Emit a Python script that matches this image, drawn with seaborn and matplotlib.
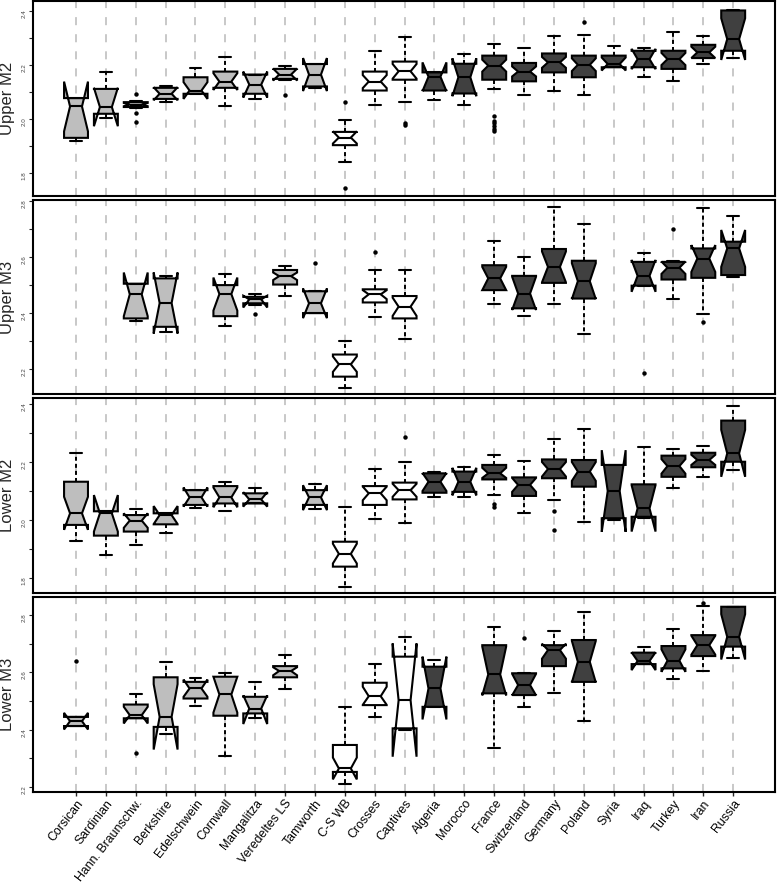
import matplotlib
import matplotlib.pyplot as plt
import numpy as np
import pandas as pd
import seaborn as sns


matplotlib.use('Agg')

categories = ["Corsican", "Sardinian", "Hann. Braunschw.", "Berkshire", "Edelschwein",
              "Cornwall", "Mangalitza", "Veredeltes LS", "Tamworth", "C-S WB", "Crosses",
              "Captives", "Algeria", "Morocco", "France", "Switzerland", "Germany", "Poland",
              "Syria", "Iraq", "Turkey", "Iran", "Russia"]
groups = ["domestic"] * 9 + ["hybrid"] * 3 + ["wild"] * 11

# one tuple per breed: (whisker low, q1, median, q3, whisker high, notch low, notch high)
upper_m2 = [
    (1.920, 1.931, 2.047, 2.078, 2.078, 1.955, 2.139),
    (2.005, 2.020, 2.045, 2.112, 2.173, 1.974, 2.116),
    (2.040, 2.045, 2.054, 2.063, 2.066, 2.048, 2.060),
    (2.063, 2.075, 2.094, 2.116, 2.124, 2.070, 2.118),
    (2.094, 2.094, 2.106, 2.155, 2.188, 2.075, 2.137),
    (2.047, 2.116, 2.139, 2.176, 2.231, 2.108, 2.170),
    (2.074, 2.094, 2.128, 2.165, 2.165, 2.080, 2.176),
    (2.145, 2.149, 2.165, 2.186, 2.198, 2.143, 2.187),
    (2.116, 2.121, 2.165, 2.204, 2.204, 2.104, 2.226),
    (1.840, 1.904, 1.932, 1.953, 1.998, 1.910, 1.955),
    (2.051, 2.106, 2.139, 2.176, 2.253, 2.115, 2.163),
    (2.063, 2.146, 2.177, 2.213, 2.304, 2.150, 2.204),
    (2.072, 2.106, 2.157, 2.173, 2.173, 2.104, 2.210),
    (2.053, 2.095, 2.155, 2.205, 2.241, 2.085, 2.225),
    (2.112, 2.146, 2.198, 2.235, 2.277, 2.176, 2.220),
    (2.088, 2.140, 2.176, 2.208, 2.263, 2.158, 2.195),
    (2.106, 2.173, 2.210, 2.243, 2.308, 2.190, 2.230),
    (2.091, 2.155, 2.201, 2.235, 2.312, 2.178, 2.225),
    (2.192, 2.192, 2.204, 2.235, 2.269, 2.180, 2.228),
    (2.155, 2.192, 2.222, 2.253, 2.265, 2.185, 2.260),
    (2.143, 2.186, 2.222, 2.253, 2.324, 2.200, 2.245),
    (2.204, 2.226, 2.247, 2.275, 2.308, 2.226, 2.268),
    (2.226, 2.253, 2.296, 2.402, 2.405, 2.219, 2.373),
]
upper_m2_outliers = [
    ("Hann. Braunschw.", 2.094), ("Hann. Braunschw.", 2.023), ("Hann. Braunschw.", 1.988),
    ("Veredeltes LS", 2.091), ("C-S WB", 2.063), ("C-S WB", 1.744),
    ("Captives", 1.977), ("Captives", 1.985),
    ("France", 1.955), ("France", 1.965), ("France", 1.975), ("France", 1.985),
    ("France", 1.995), ("France", 2.010), ("Poland", 2.361),
]

upper_m3 = [
    None,
    None,
    (2.373, 2.381, 2.467, 2.505, 2.505, 2.389, 2.545),
    (2.331, 2.351, 2.436, 2.524, 2.532, 2.327, 2.545),
    None,
    (2.354, 2.389, 2.468, 2.500, 2.539, 2.409, 2.527),
    (2.430, 2.435, 2.449, 2.458, 2.470, 2.420, 2.462),
    (2.462, 2.502, 2.532, 2.554, 2.569, 2.518, 2.545),
    (2.400, 2.400, 2.435, 2.478, 2.478, 2.382, 2.488),
    (2.133, 2.173, 2.217, 2.252, 2.301, 2.190, 2.245),
    (2.387, 2.438, 2.467, 2.485, 2.554, 2.450, 2.482),
    (2.307, 2.381, 2.423, 2.461, 2.554, 2.390, 2.455),
    None,
    None,
    (2.431, 2.482, 2.524, 2.571, 2.658, 2.482, 2.565),
    (2.389, 2.417, 2.470, 2.533, 2.601, 2.411, 2.530),
    (2.431, 2.508, 2.565, 2.629, 2.780, 2.510, 2.620),
    (2.324, 2.452, 2.514, 2.587, 2.718, 2.450, 2.578),
    None,
    (2.498, 2.498, 2.533, 2.583, 2.613, 2.476, 2.590),
    (2.450, 2.520, 2.562, 2.583, 2.586, 2.540, 2.584),
    (2.395, 2.526, 2.595, 2.631, 2.774, 2.547, 2.643),
    (2.530, 2.536, 2.631, 2.655, 2.748, 2.565, 2.697),
]
upper_m3_outliers = [
    ("Mangalitza", 2.395), ("Tamworth", 2.580), ("Crosses", 2.619),
    ("Iraq", 2.185), ("Turkey", 2.700), ("Iran", 2.369),
]

lower_m2 = [
    (1.929, 1.983, 2.023, 2.132, 2.232, 1.966, 2.080),
    (1.879, 1.946, 2.023, 2.030, 2.030, 1.960, 2.086),
    (1.914, 1.960, 1.998, 2.017, 2.038, 1.973, 2.023),
    (1.954, 1.985, 2.017, 2.023, 2.023, 1.986, 2.048),
    (2.043, 2.052, 2.078, 2.103, 2.103, 2.046, 2.112),
    (2.032, 2.057, 2.078, 2.117, 2.132, 2.044, 2.112),
    (2.057, 2.057, 2.071, 2.092, 2.111, 2.046, 2.096),
    None,
    (2.037, 2.052, 2.078, 2.103, 2.123, 2.034, 2.120),
    (1.770, 1.839, 1.883, 1.925, 2.046, 1.850, 1.918),
    (2.002, 2.052, 2.092, 2.117, 2.176, 2.068, 2.115),
    (1.991, 2.071, 2.103, 2.129, 2.201, 2.080, 2.125),
    (2.078, 2.094, 2.132, 2.161, 2.167, 2.100, 2.162),
    (2.078, 2.097, 2.132, 2.167, 2.182, 2.085, 2.180),
    (2.086, 2.140, 2.161, 2.190, 2.226, 2.145, 2.180),
    (2.023, 2.083, 2.121, 2.147, 2.205, 2.097, 2.145),
    (2.069, 2.144, 2.176, 2.209, 2.279, 2.150, 2.200),
    (1.992, 2.115, 2.167, 2.207, 2.313, 2.135, 2.200),
    (2.000, 2.006, 2.100, 2.190, 2.190, 1.959, 2.241),
    (2.006, 2.011, 2.040, 2.123, 2.251, 1.960, 2.120),
    (2.109, 2.149, 2.186, 2.222, 2.245, 2.160, 2.210),
    (2.147, 2.182, 2.207, 2.232, 2.255, 2.190, 2.225),
    (2.172, 2.201, 2.230, 2.343, 2.394, 2.149, 2.311),
]
lower_m2_outliers = [
    ("Captives", 2.287), ("France", 2.045), ("France", 2.055),
    ("Germany", 2.032), ("Germany", 1.966),
]

lower_m3 = [
    (2.413, 2.413, 2.430, 2.445, 2.445, 2.401, 2.459),
    None,
    (2.440, 2.440, 2.451, 2.488, 2.524, 2.422, 2.480),
    (2.385, 2.410, 2.445, 2.583, 2.637, 2.331, 2.559),
    (2.484, 2.509, 2.544, 2.567, 2.579, 2.515, 2.575),
    (2.309, 2.449, 2.523, 2.585, 2.597, 2.460, 2.585),
    (2.440, 2.457, 2.474, 2.515, 2.567, 2.420, 2.520),
    (2.542, 2.583, 2.605, 2.622, 2.660, 2.590, 2.618),
    None,
    (2.210, 2.253, 2.265, 2.347, 2.478, 2.227, 2.303),
    (2.445, 2.486, 2.517, 2.564, 2.631, 2.487, 2.550),
    (2.399, 2.405, 2.503, 2.655, 2.724, 2.306, 2.701),
    (2.480, 2.480, 2.544, 2.620, 2.643, 2.436, 2.655),
    None,
    (2.338, 2.527, 2.593, 2.695, 2.757, 2.520, 2.690),
    (2.478, 2.521, 2.556, 2.597, 2.597, 2.520, 2.595),
    (2.527, 2.622, 2.678, 2.695, 2.745, 2.648, 2.700),
    (2.430, 2.567, 2.637, 2.713, 2.809, 2.565, 2.710),
    None,
    (2.629, 2.629, 2.640, 2.669, 2.687, 2.608, 2.670),
    (2.577, 2.614, 2.641, 2.692, 2.751, 2.602, 2.680),
    (2.605, 2.657, 2.695, 2.730, 2.831, 2.662, 2.728),
    (2.649, 2.690, 2.724, 2.829, 2.829, 2.645, 2.803),
]
lower_m3_outliers = [
    ("Corsican", 2.641), ("Hann. Braunschw.", 2.320),
    ("Switzerland", 2.719), ("Iran", 2.841),
]

group_colors = {"domestic": "#bebebe", "hybrid": "#ffffff", "wild": "#404040"}


def draw_panel(ax, stats, outliers, label, ylim, yticks):
    """Notched boxplots of one tooth measurement, one box per breed."""
    for i in range(len(categories)):
        ax.axvline(i, color="#c8c8c8", lw=1.4, ls=(0, (5.8, 6.5)), zorder=0)

    box_stats, positions, colors = [], [], []
    for i, s in enumerate(stats):
        if s is None:
            continue
        lo, q1, med, q3, hi, clo, chi = s
        box_stats.append(dict(whislo=lo, q1=q1, med=med, q3=q3, whishi=hi,
                              cilo=clo, cihi=chi, fliers=[]))
        positions.append(i)
        colors.append(group_colors[groups[i]])

    art = ax.bxp(box_stats, positions=positions, widths=0.8, shownotches=True,
                 patch_artist=True, showfliers=False, manage_ticks=False,
                 boxprops=dict(linewidth=1.5, edgecolor="black"),
                 whiskerprops=dict(linewidth=1.4, color="black", linestyle=(0, (2.9, 2.2))),
                 capprops=dict(linewidth=1.5, color="black"),
                 medianprops=dict(linewidth=1.5, color="black"))
    for patch, c in zip(art["boxes"], colors):
        patch.set_facecolor(c)

    df = pd.DataFrame(outliers, columns=["breed", "value"])
    sns.stripplot(data=df, x="breed", y="value", order=categories, jitter=False,
                  color="black", size=3.2, linewidth=0, ax=ax, zorder=5)

    ax.set_xlim(-1.44, 23.4)
    ax.set_ylim(*ylim)
    ax.set_xlabel("")
    ax.set_ylabel(label, fontsize=12)
    ax.yaxis.set_label_coords(-0.024, 0.5)
    ax.set_yticks(yticks)
    ax.set_yticklabels([f"{t:.1f}" if round(t * 10) % 2 == 0 else "" for t in yticks])
    ax.tick_params(axis="y", length=3, width=0.8, labelsize=4.5, labelrotation=90,
                   pad=1.5, labelcolor="#444444", left=True)
    for sp in ax.spines.values():
        sp.set_visible(True)
        sp.set_color("black")
        sp.set_linewidth(1.5)


def main():
    sns.set_style("white")
    plt.rcParams["font.family"] = ["Liberation Sans", "DejaVu Sans"]
    plt.rcParams["lines.scale_dashes"] = False

    fig = plt.figure(figsize=(7.77, 8.84), dpi=100)
    W, H = 777.0, 884.0
    left, right = 33, 775
    bounds = [(1, 196), (200, 394), (398, 593), (597, 792)]

    panels = [
        ("Upper M2", upper_m2, upper_m2_outliers, (1.716, 2.437), np.round(np.arange(1.8, 2.41, 0.1), 1)),
        ("Upper M3", upper_m3, upper_m3_outliers, (2.111, 2.804), np.round(np.arange(2.2, 2.81, 0.1), 1)),
        ("Lower M2", lower_m2, lower_m2_outliers, (1.748, 2.421), np.round(np.arange(1.8, 2.41, 0.1), 1)),
        ("Lower M3", lower_m3, lower_m3_outliers, (2.183, 2.863), np.round(np.arange(2.2, 2.81, 0.1), 1)),
    ]

    for k, (label, stats, outliers, ylim, yticks) in enumerate(panels):
        top, bottom = bounds[k]
        ax = fig.add_axes([left / W, 1 - bottom / H, (right - left) / W, (bottom - top) / H])
        draw_panel(ax, stats, outliers, label, ylim, yticks)
        if k < 3:
            ax.tick_params(axis="x", bottom=False, labelbottom=False)
        else:
            ax.set_xticks(range(len(categories)))
            ax.set_xticklabels(categories, rotation=52, ha="right", rotation_mode="anchor",
                               fontsize=8.9)
            ax.tick_params(axis="x", bottom=True, length=3, width=1.0, pad=1.0, labelcolor="black")

    fig.savefig("out.png", dpi=100)
    plt.close(fig)


if __name__ == "__main__":
    main()
